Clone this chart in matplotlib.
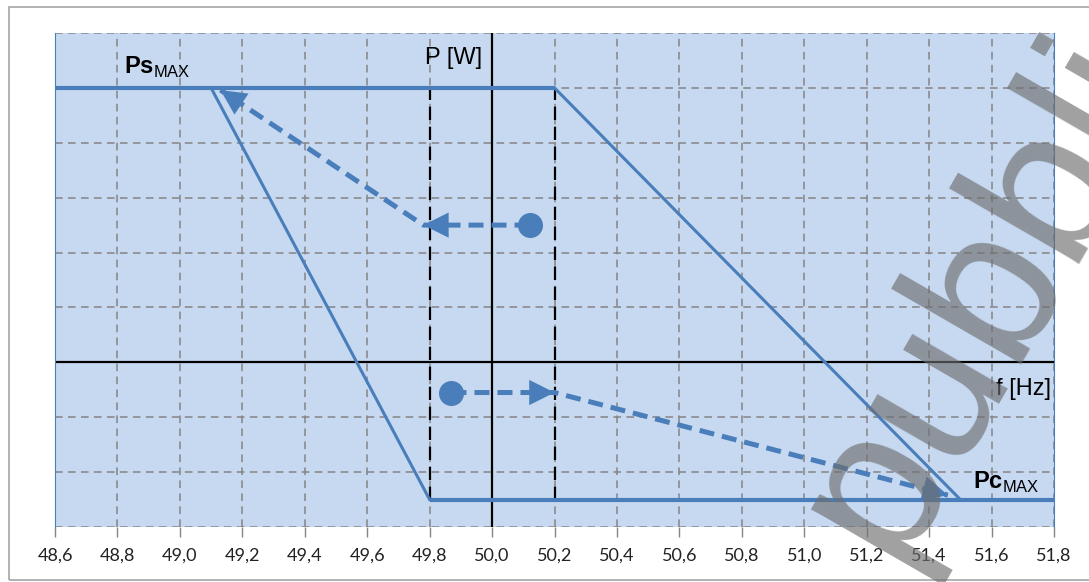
import matplotlib.pyplot as plt
from matplotlib.patches import Rectangle
from matplotlib.ticker import FuncFormatter

# frequency axis ticks (Hz)
freq_ticks = [48.6, 48.8, 49.0, 49.2, 49.4, 49.6, 49.8, 50.0, 50.2, 50.4,
              50.6, 50.8, 51.0, 51.2, 51.4, 51.6, 51.8]
p_grid = [-3, -2, -1, 0, 1, 2, 3, 4, 5, 6]

# envelope: Ps_MAX on top, Pc_MAX at bottom
top_f = [48.6, 50.2]
top_p = [5, 5]
right_f = [50.2, 51.5]
right_p = [5, -2.5]
left_f = [49.1, 49.8]
left_p = [5, -2.5]
bottom_f = [49.8, 51.8]
bottom_p = [-2.5, -2.5]

# dead band limits
band_f = [49.8, 50.2]
band_p = [-2.5, 5]

# operating point paths (dot -> arrow -> arrow)
up_path_f = [50.12, 49.78, 49.13]
up_path_p = [2.5, 2.5, 4.96]
down_path_f = [49.87, 50.2, 51.46]
down_path_p = [-0.55, -0.55, -2.42]

BLUE = '#4a7ebb'
BG = '#c6d9f1'
GRID = '#858585'

plt.rcParams['font.family'] = 'Liberation Sans'
plt.rcParams['mathtext.fontset'] = 'custom'
plt.rcParams['mathtext.rm'] = 'Liberation Sans'
plt.rcParams['mathtext.bf'] = 'Liberation Sans:bold'

fig = plt.figure(figsize=(10.89, 5.82), dpi=100)
W, H = 1089, 582
ax = fig.add_axes([55 / W, 1 - 527 / H, (1054 - 55) / W, (527 - 33) / H])
ax.set_facecolor(BG)

# outer chart frame
fig.patches.append(Rectangle((9 / W, 1 - 580 / H), 1.2, (580 - 7) / H,
                             transform=fig.transFigure, fill=False,
                             edgecolor='#a6a6a6', lw=1.2))

ax.set_xlim(48.6, 51.8)
ax.set_ylim(-3, 6)
ax.set_xticks(freq_ticks)
ax.set_yticks(p_grid)
ax.xaxis.set_major_formatter(FuncFormatter(lambda v, _: f'{v:.1f}'.replace('.', ',')))
ax.tick_params(axis='y', length=0, labelleft=False)
ax.tick_params(axis='x', length=7, width=1, color=GRID, pad=8, labelsize=13)
for lab in ax.get_xticklabels():
    lab.set_fontfamily('Lato')
    lab.set_color('#222222')
ax.grid(True, color=GRID, linestyle=(0, (5, 3.5)), lw=1.1)
ax.set_axisbelow(True)
for s in ['top', 'bottom']:
    ax.spines[s].set_visible(False)
for s in ['left', 'right']:
    ax.spines[s].set_color(BLUE)
    ax.spines[s].set_linewidth(0.8)

# main axes through origin
ax.axhline(0, color='black', lw=1.6, zorder=2)
ax.axvline(50.0, color='black', lw=1.6, zorder=2)

# dead band dashed verticals
for f in band_f:
    ax.plot([f, f], band_p, color='black', lw=1.6, ls=(0, (6, 3)), zorder=2)

# envelope lines
ax.plot(top_f, top_p, color=BLUE, lw=3, zorder=3, solid_capstyle='butt')
ax.plot(bottom_f, bottom_p, color=BLUE, lw=3, zorder=3, solid_capstyle='butt')
ax.plot(left_f, left_p, color=BLUE, lw=2.2, zorder=3)
ax.plot(right_f, right_p, color=BLUE, lw=2.2, zorder=3)


def draw_path(fs, ps):
    ax.plot(fs[0], ps[0], 'o', color=BLUE, ms=17, zorder=5)
    ax.plot(fs, ps, color=BLUE, lw=3.6, ls=(0, (3, 1.6)), zorder=4,
            dash_capstyle='butt')
    for i in range(1, len(fs)):
        ax.annotate('', xy=(fs[i], ps[i]), xytext=(fs[i - 1], ps[i - 1]),
                    arrowprops=dict(arrowstyle='-|>,head_length=1.3,head_width=0.65',
                                    color=BLUE, lw=0, shrinkA=0, shrinkB=0,
                                    mutation_scale=14),
                    zorder=5)


draw_path(up_path_f, up_path_p)
draw_path(down_path_f, down_path_p)

# labels
ax.text(49.785, 5.55, 'P [W]', fontsize=17, ha='left', va='center')
ax.text(51.79, -0.48, 'f [Hz]', fontsize=17, ha='right', va='center')
ax.text(48.82, 5.38, r'$\mathbf{Ps}_{\mathrm{MAX}}$', fontsize=17, ha='left', va='center')
ax.text(51.54, -2.18, r'$\mathbf{Pc}_{\mathrm{MAX}}$', fontsize=17, ha='left', va='center')

# watermark
fig.text(893 / W, 1 - 565 / H, 'pubblicazione', fontsize=150, rotation=60,
         rotation_mode='anchor', ha='left', va='baseline',
         color='#6e6e6e', alpha=0.65, zorder=10)

fig.savefig('out.png', dpi=100)
